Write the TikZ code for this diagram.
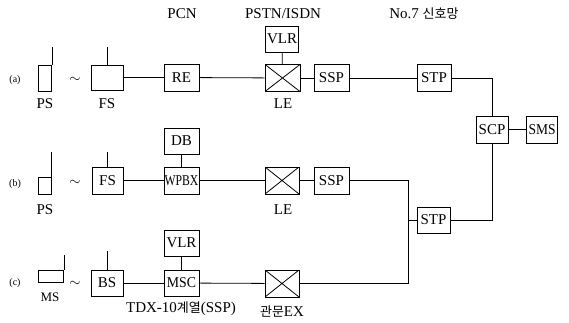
\documentclass[tikz,border=0pt]{standalone}
\usepackage{fontspec}
\setmainfont{Liberation Serif}
\newfontfamily\krfont{Noto Sans CJK KR}
\begin{document}
\begin{tikzpicture}[x=1pt,y=-1pt,line width=0.8pt,
  every node/.style={font=\fontsize{15}{17}\selectfont, inner sep=0pt},
  blk/.style={draw, minimum width=#1, minimum height=27},
  blk/.default=35,
  xbox/.style={draw, minimum width=35, minimum height=27,
    path picture={\draw[line width=0.8pt] (path picture bounding box.north west) -- (path picture bounding box.south east)
      (path picture bounding box.south west) -- (path picture bounding box.north east);}},
  tag/.style={font=\fontsize{10}{11}\selectfont},
  lbl/.style={}]
\useasboundingbox (0,0) rectangle (569,323);
% headings
\node[lbl] (hpcn) at (182,14) {PCN};
\node[lbl] (hpstn) at (283,14) {PSTN/ISDN};
\node[lbl] (hno7) at (424,14) {No.7 {\krfont\fontsize{13}{15}\selectfont 신호망}};
% row (a)
\node[tag] (ta) at (15,80) {(a)};
\node (tila) at (75,80) {$\sim$};
\node[draw, minimum width=13, minimum height=26] (psA) at (45,78) {};
\node[blk=32, minimum height=25] (fsA) at (107.5,77.5) {};
\node[blk] (reA) at (181.5,77.5) {RE};
\node[xbox] (leA) at (282.5,78) {};
\node[blk=33, minimum height=26] (vlrA) at (282,39) {VLR};
\node[blk] (sspA) at (331.5,78) {SSP};
\node[blk=34] (stpA) at (434,78) {STP};
\node[blk=32] (scp) at (492,129.5) {SCP};
\node[blk=31] (sms) at (542,129.5) {\scalebox{0.9}[1]{SMS}};
\node (lpsA) at (45,104) {PS};
\node (lfsA) at (107,104) {FS};
\node (lleA) at (283,104) {LE};
% row (b)
\node[tag] (tb) at (15,184) {(b)};
\node (tilb) at (75,183) {$\sim$};
\node[draw, minimum width=13, minimum height=17] (psB) at (44.5,185.5) {};
\node[blk=31] (fsB) at (107.5,180.5) {FS};
\node[blk] (wpbx) at (181.5,180.5) {\scalebox{0.78}[1]{WPBX}};
\node[blk, minimum height=26] (db) at (181.5,141) {DB};
\node[xbox, minimum width=34] (leB) at (282,180.5) {};
\node[blk] (sspB) at (331.5,180.5) {SSP};
\node[blk=33, minimum height=26] (stpB) at (433.5,220) {STP};
\node (lpsB) at (45,210) {PS};
\node (lleB) at (283,210) {LE};
% row (c)
\node[tag] (tc) at (15,283) {(c)};
\node (tilc) at (75,284) {$\sim$};
\node[draw, minimum width=25, minimum height=12] (ms) at (51,276) {};
\node[blk=32, minimum height=26] (bs) at (107,283) {BS};
\node[blk, minimum height=26] (msc) at (181.5,283) {\scalebox{0.92}[1]{MSC}};
\node[blk, minimum height=26] (vlrC) at (181.5,243) {VLR};
\node[xbox, minimum width=34] (gw) at (282,283.5) {};
\node (lms) at (50,297) {\fontsize{13}{15}\selectfont MS};
\node (ltdx) at (181,309) {TDX-10{\krfont\fontsize{13}{15}\selectfont 계열}(SSP)};
\node (lgw) at (282,311) {{\krfont\fontsize{13}{15}\selectfont 관문}EX};
\coordinate (jn) at (408.5,220);
% antennas
\draw (psA.north east) -- ++(0,-18);
\draw (fsA.north) -- ++(0,-18);
\draw (psB.north east) -- ++(0,-25);
\draw (fsB.north) -- ++(0,-15);
\draw (ms.north east) -- ++(0,-15);
\draw (bs.north) -- ++(0,-19);
% connectors (a)
\draw (fsA) -- (reA);
\draw (reA) -- (leA);
\draw (vlrA) -- (leA);
\draw (leA) -- (sspA);
\draw (sspA) -- (stpA);
\draw (stpA.east) -| (scp.north);
\draw (scp) -- (sms);
\draw (scp.south) |- (stpB.east);
% connectors (b)
\draw (fsB) -- (wpbx);
\draw (db) -- (wpbx);
\draw (wpbx) -- (leB);
\draw (leB) -- (sspB);
\draw (sspB.east) -| (jn) -- (stpB.west);
% connectors (c)
\draw (bs) -- (msc);
\draw (vlrC) -- (msc);
\draw (msc) -- (gw);
\draw (gw.east) -| (jn);
\end{tikzpicture}
\end{document}
